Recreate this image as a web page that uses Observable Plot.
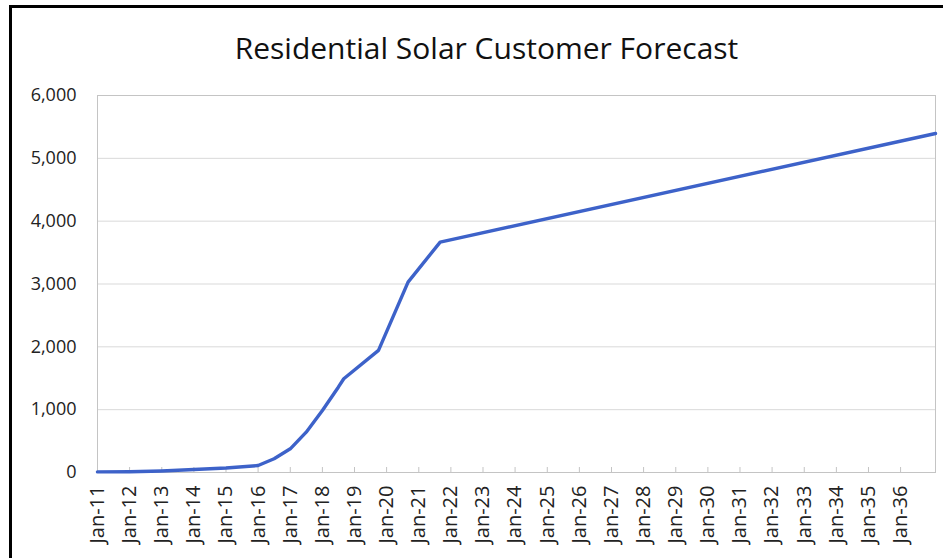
<!DOCTYPE html>
<html>
<head>
<meta charset="utf-8">
<script src="https://cdn.jsdelivr.net/npm/d3@7"></script>
<script src="https://cdn.jsdelivr.net/npm/@observablehq/plot@0.6"></script>
<style>
  html, body { margin: 0; padding: 0; background: #fff; }
  #wrap { position: relative; width: 943px; height: 558px; overflow: hidden; background: #fff; }
  #border { position: absolute; left: 9px; top: 5px; width: 1000px; height: 1000px;
            border-top: 3px solid #000; border-left: 3px solid #000; box-sizing: border-box; }
  #title { position: absolute; left: 15px; top: 0; width: 943px; height: 80px; line-height: 96px;
           text-align: center; font-family: "Open Sans", sans-serif; font-size: 30px; color: #111; }
  #chart { position: absolute; left: 0; top: 80px; }
</style>
</head>
<body>
<div id="wrap">
  <div id="border"></div>
  <div id="title">Residential Solar Customer Forecast</div>
  <div id="chart"></div>
</div>
<script>
// Data (month, customers)
const months = ["2011-01","2012-01","2013-01","2014-01","2015-01","2016-01","2016-07","2017-01",
                "2017-07","2018-01","2018-07","2018-09","2019-10","2020-09","2021-09","2037-02"];
const customers = [10, 12, 25, 48, 72, 111, 218, 377, 642, 987, 1358, 1492, 1943, 3030, 3667, 5395];
const yTicks = [0, 1000, 2000, 3000, 4000, 5000, 6000];
const xTickYears = d3.range(2011, 2037);

const parse = d3.utcParse("%Y-%m");
const data = months.map((m, i) => ({date: parse(m), value: customers[i]}));
const xTicks = xTickYears.map(y => new Date(Date.UTC(y, 0, 1)));
const fmt = d3.utcFormat("%b-%y");

const chart = Plot.plot({
  width: 943,
  height: 478,
  marginTop: 15,
  marginBottom: 86,
  marginLeft: 97,
  marginRight: 8,
  style: {fontFamily: "Open Sans, sans-serif", color: "#222", background: "transparent"},
  x: {type: "utc", domain: d3.extent(data, d => d.date), label: null},
  y: {domain: [0, 6000], label: null},
  marks: [
    Plot.gridY(yTicks, {stroke: "#d9d9d9", strokeOpacity: 1}),
    Plot.frame({stroke: "#c4c4c4"}),
    Plot.ruleX(xTicks, {stroke: "#c4c4c4", insetTop: 372}),
    Plot.axisY(yTicks, {tickSize: 0, tickPadding: 21, tickFormat: d3.format(","), fontSize: 18, fill: "#222", label: null}),
    Plot.axisX(xTicks, {tickSize: 0, tickPadding: 13, tickRotate: -90, tickFormat: fmt, fontSize: 20, fill: "#222", label: null}),
    Plot.line(data, {x: "date", y: "value", stroke: "#3d62c9", strokeWidth: 3.4, strokeLinejoin: "round", strokeLinecap: "round"})
  ]
});
document.getElementById("chart").appendChild(chart);
</script>
</body>
</html>
